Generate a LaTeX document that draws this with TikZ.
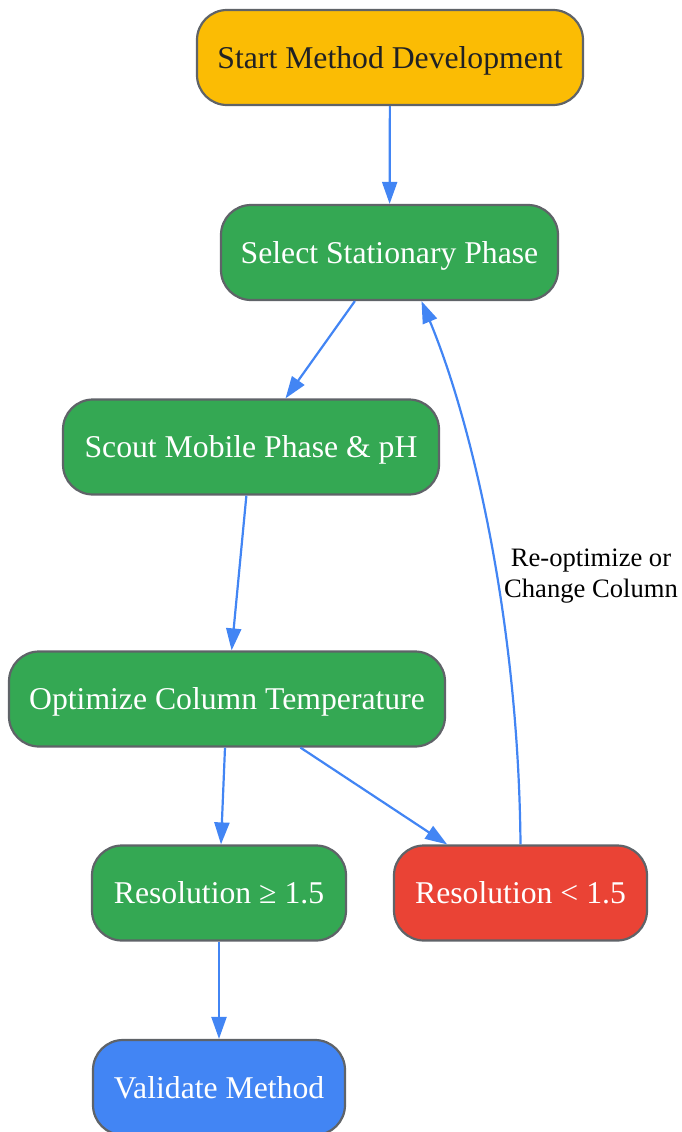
\documentclass[tikz,border=0pt]{standalone}
\usepackage{fontspec}
\setmainfont{Liberation Serif}
\usetikzlibrary{arrows.meta}
\definecolor{gyellow}{HTML}{FBBC04}
\definecolor{ggreen}{HTML}{34A853}
\definecolor{gred}{HTML}{EA4335}
\definecolor{gblue}{HTML}{4285F4}
\definecolor{gborder}{HTML}{5F6368}
\definecolor{gtext}{HTML}{202124}
\tikzset{
  box/.style={draw=gborder, line width=2.2pt, rounded corners=30pt, minimum height=95pt, inner sep=0pt, text height=21pt, text depth=0pt, font=\fontsize{31.7}{38}\selectfont, text=white},
  conn/.style={draw=gblue, line width=2.2pt, -{Triangle[length=22pt,width=15pt]}},
  lbl/.style={font=\fontsize{26.6}{31}\selectfont, align=center, text=black}
}
\begin{document}
\begin{tikzpicture}[x=1pt,y=-1pt]
\clip (0,0) rectangle (681,1132);
\node[box, fill=gyellow, text=gtext, minimum width=386pt] (start) at (390,57.5) {Start Method Development};
\node[box, fill=ggreen, minimum width=337pt] (sel) at (389.5,252.5) {Select Stationary Phase};
\node[box, fill=ggreen, minimum width=376pt] (scout) at (251,447) {Scout Mobile Phase \& pH};
\node[box, fill=ggreen, minimum width=436pt] (opt) at (227,699) {Optimize Column Temperature};
\node[box, fill=ggreen, minimum width=254pt] (rge) at (219,893) {Resolution ≥ 1.5};
\node[box, fill=gred, minimum width=253pt] (rlt) at (520.5,893) {Resolution < 1.5};
\node[box, fill=gblue, minimum width=252pt] (val) at (219,1087.5) {Validate Method};
\draw[conn] (start) -- (sel);
\draw[conn] (sel) -- (scout);
\draw[conn] (scout) -- (opt);
\draw[conn] (opt) -- (rge);
\draw[conn] (opt) -- (rlt);
\draw[conn] (rge) -- (val);
\draw[conn] (rlt.north) .. controls +(-2,-225) and +(50,120) .. ([xshift=32pt]sel.south);
\node[lbl] (lab) at (591,576) {Re-optimize or\\Change Column};
\end{tikzpicture}
\end{document}
